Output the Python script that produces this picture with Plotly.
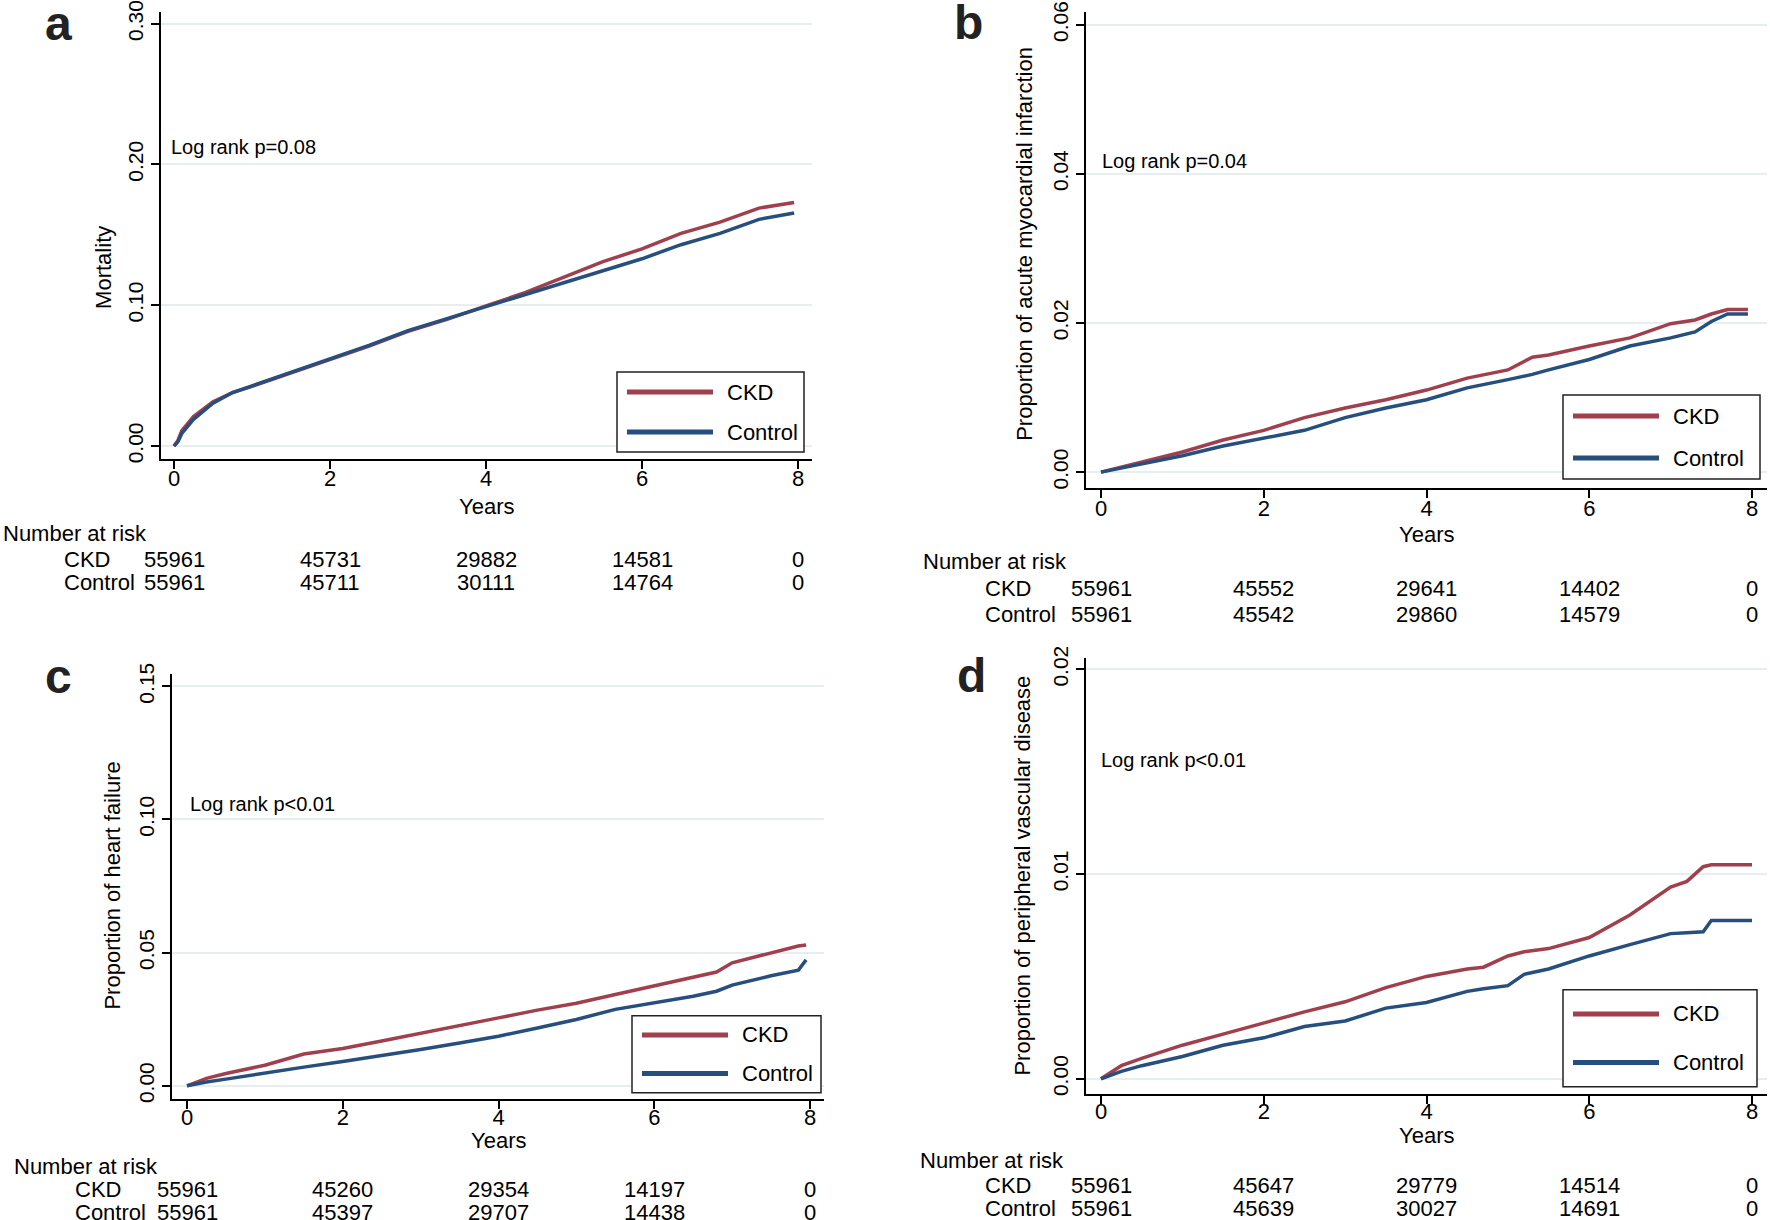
import plotly.graph_objects as go

W, H = 1770, 1220
FONT = "Liberation Sans, Arial, Helvetica, sans-serif"
CKD_COLOR = "#a0404e"
CTRL_COLOR = "#264f7d"
GRID = "#e6eef0"

# ---------------- data ----------------
# Panel a: Mortality
t_a = [0, 0.05, 0.1, 0.25, 0.5, 0.75, 1.0, 1.5, 2.0, 2.5, 3.0, 3.5, 4.0, 4.5, 5.0, 5.5, 6.0, 6.5, 7.0, 7.5, 7.95]
ckd_a = [0, 0.004, 0.011, 0.021, 0.0315, 0.038, 0.0424, 0.052, 0.0612, 0.071, 0.0815, 0.090, 0.0995, 0.109, 0.120, 0.131, 0.140, 0.151, 0.159, 0.169, 0.173]
ctrl_a = [0, 0.003, 0.009, 0.019, 0.0305, 0.038, 0.0428, 0.0525, 0.0618, 0.0715, 0.082, 0.0905, 0.0990, 0.1076, 0.116, 0.125, 0.133, 0.143, 0.151, 0.161, 0.1655]

# Panel b: Acute myocardial infarction
t_b = [0, 0.5, 1.0, 1.5, 2.0, 2.5, 3.0, 3.5, 4.0, 4.5, 5.0, 5.3, 5.5, 6.0, 6.5, 7.0, 7.3, 7.5, 7.7, 7.95]
ckd_b = [0, 0.00134, 0.0027, 0.0043, 0.0056, 0.0073, 0.0086, 0.0097, 0.0110, 0.0126, 0.0137, 0.0154, 0.0157, 0.0169, 0.0180, 0.0199, 0.0204, 0.0212, 0.0218, 0.0218]
ctrl_b = [0, 0.0011, 0.0022, 0.0035, 0.0046, 0.0056, 0.0073, 0.0086, 0.0097, 0.0113, 0.0124, 0.0131, 0.0137, 0.0151, 0.0169, 0.0180, 0.0188, 0.0202, 0.0212, 0.0212]

# Panel c: Heart failure
t_c = [0, 0.1, 0.25, 0.5, 1.0, 1.5, 2.0, 2.5, 3.0, 3.5, 4.0, 4.5, 5.0, 5.5, 6.0, 6.5, 6.8, 7.0, 7.5, 7.85, 7.95]
ckd_c = [0, 0.0011, 0.0028, 0.0046, 0.0077, 0.0119, 0.0140, 0.0168, 0.0196, 0.0224, 0.0255, 0.0284, 0.0310, 0.0343, 0.0375, 0.0406, 0.0427, 0.0462, 0.0500, 0.0525, 0.0529]
ctrl_c = [0, 0.0006, 0.0014, 0.0025, 0.0049, 0.0070, 0.0091, 0.0112, 0.0136, 0.0161, 0.0186, 0.0217, 0.0249, 0.0287, 0.0310, 0.0336, 0.0355, 0.0378, 0.0413, 0.0434, 0.0473]

# Panel d: Peripheral vascular disease
t_d = [0, 0.25, 0.5, 1.0, 1.5, 2.0, 2.5, 3.0, 3.5, 4.0, 4.5, 4.7, 5.0, 5.2, 5.5, 6.0, 6.5, 7.0, 7.2, 7.4, 7.5, 8.0]
ckd_d = [0, 0.00064, 0.0010, 0.00164, 0.00218, 0.00273, 0.00327, 0.00376, 0.00445, 0.0050, 0.00536, 0.00545, 0.0060, 0.0062, 0.00636, 0.0069, 0.0080, 0.00936, 0.00964, 0.01036, 0.01045, 0.01045]
ctrl_d = [0, 0.00036, 0.00064, 0.00109, 0.00164, 0.0020, 0.00255, 0.00282, 0.00345, 0.00373, 0.00427, 0.0044, 0.00455, 0.0051, 0.00536, 0.0060, 0.00655, 0.00709, 0.00713, 0.00718, 0.00773, 0.00773]

# Number at risk
risk_times = [0, 2, 4, 6, 8]
risk_a_ckd = [55961, 45731, 29882, 14581, 0]
risk_a_ctrl = [55961, 45711, 30111, 14764, 0]
risk_b_ckd = [55961, 45552, 29641, 14402, 0]
risk_b_ctrl = [55961, 45542, 29860, 14579, 0]
risk_c_ckd = [55961, 45260, 29354, 14197, 0]
risk_c_ctrl = [55961, 45397, 29707, 14438, 0]
risk_d_ckd = [55961, 45647, 29779, 14514, 0]
risk_d_ctrl = [55961, 45639, 30027, 14691, 0]

x_ticks = [0, 2, 4, 6, 8]
y_ticks_a = [0.0, 0.1, 0.2, 0.3]
y_ticks_b = [0.0, 0.02, 0.04, 0.06]
y_ticks_c = [0.0, 0.05, 0.10, 0.15]
y_ticks_d = [0.0, 0.01, 0.02]
y_ticktext_a = ["0.00", "0.10", "0.20", "0.30"]
y_ticktext_b = ["0.00", "0.02", "0.04", "0.06"]
y_ticktext_c = ["0.00", "0.05", "0.10", "0.15"]
y_ticktext_d = ["0.00", "0.01", "0.02"]

panel_letters = ["a", "b", "c", "d"]
y_titles = ["Mortality", "Proportion of acute myocardial infarction",
            "Proportion of heart failure", "Proportion of peripheral vascular disease"]
logrank = ["Log rank p=0.08", "Log rank p=0.04", "Log rank p<0.01", "Log rank p<0.01"]
group_names = ["CKD", "Control"]

# target pixel geometry (as measured on the reference)
panels = [
    dict(L=161, R=812, T=11, B=459, x0=174, x8=798, y0=446, ytop=24, vtop=0.30,
         letter=(58, 24), logr=(169, 147), ytitle=(104, 268), years=506, standoff=-9,
         nar=(1, 533), lab_x=62, rows=(559, 582), leg=(617, 372, 804, 452)),
    dict(L=1086, R=1767, T=12, B=488, x0=1101, x8=1752, y0=472, ytop=25, vtop=0.06,
         letter=(968, 23), logr=(1100, 161), ytitle=(1025, 244), years=534, standoff=-9,
         nar=(921, 561), lab_x=983, rows=(588, 614), leg=(1563, 395, 1760, 479)),
    dict(L=172, R=824, T=674, B=1098, x0=187, x8=810, y0=1085, ytop=686, vtop=0.15,
         letter=(58, 676), logr=(188, 804), ytitle=(113, 885), years=1140, standoff=-10,
         nar=(12, 1166), lab_x=73, rows=(1189, 1212), leg=(632, 1015, 821, 1092)),
    dict(L=1086, R=1767, T=658, B=1093, x0=1101, x8=1752, y0=1078, ytop=669, vtop=0.02,
         letter=(971, 675), logr=(1099, 760), ytitle=(1023, 875), years=1135, standoff=-11,
         nar=(918, 1160), lab_x=983, rows=(1185, 1208), leg=(1563, 989, 1757, 1086)),
]

series = [(t_a, ckd_a, ctrl_a), (t_b, ckd_b, ctrl_b), (t_c, ckd_c, ctrl_c), (t_d, ckd_d, ctrl_d)]
risks = [(risk_a_ckd, risk_a_ctrl), (risk_b_ckd, risk_b_ctrl), (risk_c_ckd, risk_c_ctrl), (risk_d_ckd, risk_d_ctrl)]
yticks = [(y_ticks_a, y_ticktext_a), (y_ticks_b, y_ticktext_b), (y_ticks_c, y_ticktext_c), (y_ticks_d, y_ticktext_d)]

# the captured page shows the figure slightly shifted/compressed vertically; compensate
V_OFF, V_SCALE = 12.4, 0.9858


def vy(y):
    return max(0.0, (y - V_OFF) / V_SCALE)


def px(x):
    return x / W


def py(y):
    return 1 - vy(y) / H


def py_raw(y):
    return 1 - y / H


fig = go.Figure()
annotations = []
shapes = []

for i, p in enumerate(panels):
    n = "" if i == 0 else str(i + 1)
    xa, ya = "x" + n, "y" + n
    t, ck, ct = series[i]
    fig.add_trace(go.Scatter(x=t, y=ck, mode="lines", name="CKD", xaxis=xa, yaxis=ya,
                             line=dict(color=CKD_COLOR, width=3.5), showlegend=False))
    fig.add_trace(go.Scatter(x=t, y=ct, mode="lines", name="Control", xaxis=xa, yaxis=ya,
                             line=dict(color=CTRL_COLOR, width=3.5), showlegend=False))

    ppx = (p["x8"] - p["x0"]) / 8.0
    xr = [(p["L"] - p["x0"]) / ppx, 8 + (p["R"] - p["x8"]) / ppx]
    T_i, B_i, y0_i, yt_i = vy(p["T"]), vy(p["B"]), vy(p["y0"]), vy(p["ytop"])
    ppy = (y0_i - yt_i) / p["vtop"]
    yr = [-(B_i - y0_i) / ppy, p["vtop"] + (yt_i - T_i) / ppy]

    axis_common = dict(showline=True, linecolor="black", linewidth=2, ticks="outside",
                       ticklen=8, tickwidth=2, tickcolor="black", zeroline=False)
    fig.update_layout(**{
        "xaxis" + n: dict(domain=[px(p["L"]), px(p["R"])], range=xr, anchor=ya,
                          tickvals=x_ticks, showgrid=False, ticklabelstandoff=p["standoff"],
                          tickfont=dict(family=FONT, size=22, color="black"), **axis_common),
        "yaxis" + n: dict(domain=[py_raw(B_i), py_raw(T_i)], range=yr, anchor=xa,
                          tickvals=yticks[i][0], ticktext=yticks[i][1], tickangle=-90,
                          showgrid=True, gridcolor=GRID, gridwidth=1.5,
                          tickfont=dict(family=FONT, size=21, color="black"), **axis_common),
    })

    annotations.append(dict(text="<b>" + panel_letters[i] + "</b>", x=px(p["letter"][0]),
                            y=py(p["letter"][1]),
                            xref="paper", yref="paper", showarrow=False, xanchor="center", yanchor="middle",
                            font=dict(family=FONT, size=48, color="#222222")))
    annotations.append(dict(text=logrank[i], x=px(p["logr"][0]), y=py(p["logr"][1]),
                            xref="paper", yref="paper", showarrow=False, xanchor="left", yanchor="middle",
                            font=dict(family=FONT, size=20, color="black")))
    annotations.append(dict(text=y_titles[i], x=px(p["ytitle"][0]), y=py(p["ytitle"][1]), textangle=-90,
                            xref="paper", yref="paper", showarrow=False, xanchor="center", yanchor="middle",
                            font=dict(family=FONT, size=22, color="black")))
    annotations.append(dict(text="Years", x=4, y=py(p["years"]), xref=xa, yref="paper",
                            showarrow=False, xanchor="center", yanchor="middle",
                            font=dict(family=FONT, size=22, color="black")))
    annotations.append(dict(text="Number at risk", x=px(p["nar"][0]), y=py(p["nar"][1]),
                            xref="paper", yref="paper", showarrow=False, xanchor="left", yanchor="middle",
                            font=dict(family=FONT, size=22, color="black")))
    for g, name in enumerate(group_names):
        ry = py(p["rows"][g])
        annotations.append(dict(text=name, x=px(p["lab_x"]), y=ry, xref="paper", yref="paper",
                                showarrow=False, xanchor="left", yanchor="middle",
                                font=dict(family=FONT, size=22, color="black")))
        for tt, val in zip(risk_times, risks[i][g]):
            annotations.append(dict(text=str(val), x=tt, y=ry, xref=xa, yref="paper",
                                    showarrow=False, xanchor="center", yanchor="middle",
                                    font=dict(family=FONT, size=22, color="black")))
    # legend box
    L, T, R, B = p["leg"]
    shapes.append(dict(type="rect", xref="paper", yref="paper", x0=px(L), x1=px(R), y0=py(B), y1=py(T),
                       line=dict(color="#222222", width=1.5), fillcolor="white", layer="above"))
    for g, (name, col) in enumerate(zip(group_names, [CKD_COLOR, CTRL_COLOR])):
        ly = T + (0.25 if g == 0 else 0.75) * (B - T)
        shapes.append(dict(type="line", xref="paper", yref="paper", x0=px(L + 10), x1=px(L + 96),
                           y0=py(ly), y1=py(ly), line=dict(color=col, width=5), layer="above"))
        annotations.append(dict(text=name, x=px(L + 108), y=py(ly), xref="paper", yref="paper",
                                showarrow=False, xanchor="left", yanchor="middle",
                                font=dict(family=FONT, size=22, color="black")))

fig.update_layout(width=W, height=H, margin=dict(l=0, r=0, t=0, b=0),
                  paper_bgcolor="white", plot_bgcolor="white",
                  annotations=annotations, shapes=shapes, showlegend=False)

fig.write_html("out.html", config={"displayModeBar": False},
               post_script="document.body.style.margin='0';document.body.style.padding='0';"
                           "document.documentElement.style.overflow='hidden';")
